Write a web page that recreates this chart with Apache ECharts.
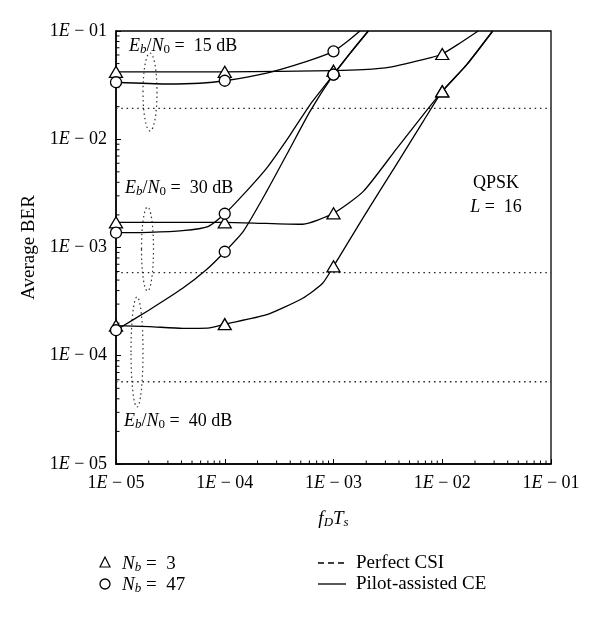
<!DOCTYPE html>
<html>
<head>
<meta charset="utf-8">
<script src="https://cdn.jsdelivr.net/npm/echarts@6/dist/echarts.min.js"></script>
<style>
html, body { margin: 0; padding: 0; background: #fff; }
#chart { width: 600px; height: 617px; }
</style>
</head>
<body>
<div id="chart"></div>
<script>
// decade points that carry a marker
var markerX = [1e-5, 1e-4, 1e-3, 1e-2];

// perfect CSI error floors (dotted lines)
var csi15 = 0.0193;
var csi30 = 5.85e-4;
var csi40 = 5.75e-5;

// pilot-assisted CE, Nb = 3 (triangles)
var nb3_15 = [[1e-5, 0.042], [1e-4, 0.042], [1e-3, 0.043], [1.88e-3, 0.0439], [3.31e-3, 0.0463],
    [7.7e-3, 0.0564], [1e-2, 0.0613], [1.46e-2, 0.0775], [2.14e-2, 0.1]];
var nb3_30 = [[1e-5, 0.00171], [1e-4, 0.00171], [2.39e-4, 0.00167], [5.21e-4, 0.00164], [1e-3, 0.00207],
    [1.88e-3, 0.0033], [3.81e-3, 0.0082], [6.7e-3, 0.0169], [1e-2, 0.0277], [1.68e-2, 0.0489], [2.91e-2, 0.1]];
var nb3_40 = [[1e-5, 1.9e-4], [2.02e-5, 1.86e-4], [4.1e-5, 1.79e-4], [7e-5, 1.8e-4], [1e-4, 1.96e-4],
    [2.39e-4, 2.38e-4], [5.21e-4, 3.4e-4], [7.94e-4, 4.67e-4], [1e-3, 6.7e-4], [1.88e-3, 0.0019],
    [3.81e-3, 0.0059], [6.7e-3, 0.0147], [1e-2, 0.0277], [1.68e-2, 0.0489], [2.91e-2, 0.1]];

// pilot-assisted CE, Nb = 47 (circles)
var nb47_15 = [[1e-5, 0.0336], [2.92e-5, 0.0324], [5.9e-5, 0.0329], [1e-4, 0.0347], [2.43e-4, 0.0409],
    [5.68e-4, 0.0525], [1e-3, 0.0649], [1.32e-3, 0.0791], [1.75e-3, 0.1]];
var nb47_30 = [[1e-5, 0.00137], [2.0e-5, 0.00138], [4.1e-5, 0.00143], [7.0e-5, 0.00156], [1e-4, 0.00205],
    [1.48e-4, 0.00308], [2.43e-4, 0.00542], [4.0e-4, 0.011], [6.08e-4, 0.0208], [1e-3, 0.0395],
    [1.42e-3, 0.0622], [2.09e-3, 0.1]];
var nb47_40 = [[1e-5, 1.72e-4], [2.02e-5, 2.65e-4], [4.1e-5, 4.2e-4], [6.73e-5, 6.19e-4], [1e-4, 9.14e-4],
    [1.48e-4, 0.00141], [2.43e-4, 0.0033], [4.0e-4, 0.0083], [6.08e-4, 0.0181], [1e-3, 0.0395],
    [1.42e-3, 0.0622], [2.09e-3, 0.1]];

var SERIF = '"Liberation Serif", "DejaVu Serif", serif';

function curve(data, sym) {
    return {
        type: 'line',
        smooth: 0.2,
        clip: true,
        symbol: sym,
        symbolSize: sym === 'triangle' ? [13, 11] : 11,
        showAllSymbol: true,
        itemStyle: { color: '#fff', borderColor: '#000', borderWidth: 1.3 },
        lineStyle: { color: '#000', width: 1.3 },
        data: data.map(function (p) {
            if (markerX.indexOf(p[0]) >= 0) return { value: p };
            return { value: p, symbol: 'none' };
        })
    };
}

function floorLine(v) {
    return {
        type: 'line',
        symbol: 'none',
        lineStyle: { color: '#222', width: 1.3, type: [1.5, 3.8] },
        data: [[1e-5, v], [1e-1, v]]
    };
}

function tickLabel(v) {
    var e = Math.round(Math.log(v) / Math.LN10);
    return '{a|1}{i|E}{a| \u2212 0' + (-e) + '}';
}

var labelRich = {
    a: { fontFamily: SERIF, fontSize: 18, color: '#000' },
    i: { fontFamily: SERIF, fontSize: 18, fontStyle: 'italic', color: '#000' }
};

var chart = echarts.init(document.getElementById('chart'));

chart.setOption({
    animation: false,
    backgroundColor: '#fff',
    grid: { left: 116, top: 31, right: 49, bottom: 153, show: true, borderColor: '#000', borderWidth: 1.3 },
    xAxis: {
        type: 'log', logBase: 10, min: 1e-5, max: 1e-1,
        name: '{i|f}{s|D}{i|T}{s|s}',
        nameLocation: 'middle', nameGap: 44,
        nameTextStyle: {
            rich: {
                i: { fontFamily: SERIF, fontSize: 19, fontStyle: 'italic', color: '#000' },
                s: { fontFamily: SERIF, fontSize: 13, fontStyle: 'italic', color: '#000', padding: [8, 0, 0, 0] }
            }
        },
        axisLine: { lineStyle: { color: '#000', width: 1.5 } },
        axisTick: { inside: true, length: 5, lineStyle: { color: '#000' } },
        splitLine: { show: false },
        axisLabel: { margin: 10, formatter: tickLabel, rich: labelRich }
    },
    yAxis: {
        type: 'log', logBase: 10, min: 1e-5, max: 1e-1,
        name: 'Average BER',
        nameLocation: 'middle', nameRotate: 90, nameGap: 76,
        nameTextStyle: { fontFamily: SERIF, fontSize: 19, color: '#000' },
        axisLine: { lineStyle: { color: '#000', width: 1.5 } },
        axisTick: { inside: true, length: 5, lineStyle: { color: '#000' } },
        splitLine: { show: false },
        axisLabel: { margin: 9, formatter: tickLabel, rich: labelRich }
    },
    series: [
        floorLine(csi15), floorLine(csi30), floorLine(csi40),
        curve(nb3_15, 'triangle'), curve(nb3_30, 'triangle'), curve(nb3_40, 'triangle'),
        curve(nb47_15, 'circle'), curve(nb47_30, 'circle'), curve(nb47_40, 'circle')
    ]
});

// minor log ticks, annotations and the legend
var x0 = chart.convertToPixel({ xAxisIndex: 0 }, 1e-5);
var y0 = chart.convertToPixel({ yAxisIndex: 0 }, 1e-5);
var els = [];
for (var d = -5; d <= -2; d++) {
    for (var m = 2; m <= 9; m++) {
        var v = m * Math.pow(10, d);
        var px = chart.convertToPixel({ xAxisIndex: 0 }, v);
        var py = chart.convertToPixel({ yAxisIndex: 0 }, v);
        els.push({ type: 'line', shape: { x1: px, y1: y0, x2: px, y2: y0 - 3.5 }, style: { stroke: '#000', lineWidth: 1 } });
        els.push({ type: 'line', shape: { x1: x0, y1: py, x2: x0 + 3.5, y2: py }, style: { stroke: '#000', lineWidth: 1 } });
    }
}

function richSet(size) {
    return {
        i: { fontFamily: SERIF, fontSize: size, fontStyle: 'italic', fill: '#000' },
        n: { fontFamily: SERIF, fontSize: size, fill: '#000' },
        s: { fontFamily: SERIF, fontSize: 13, fontStyle: 'italic', fill: '#000', padding: [8, 0, 0, 0] },
        s0: { fontFamily: SERIF, fontSize: 13, fill: '#000', padding: [8, 0, 0, 0] }
    };
}
function ebn0(db) {
    return '{i|E}{s|b}{n|/}{i|N}{s0|0}{n| =  ' + db + ' dB}';
}
function txt(x, y, text, align, size) {
    return { type: 'text', x: x, y: y,
        style: { text: text, rich: richSet(size || 18), align: align || 'left', verticalAlign: 'middle' } };
}
function dotEllipse(cx, cy, rx, ry) {
    return { type: 'ellipse', shape: { cx: cx, cy: cy, rx: rx, ry: ry },
        style: { fill: null, stroke: '#333', lineWidth: 1.2, lineDash: [1.5, 3] } };
}

els.push(txt(129, 46, ebn0(15)));
els.push(txt(125, 188, ebn0(30)));
els.push(txt(124, 421, ebn0(40)));
els.push(txt(496, 183, '{n|QPSK}', 'center'));
els.push(txt(496, 207, '{i|L}{n| =  16}', 'center'));

els.push(dotEllipse(150, 92, 7, 39));
els.push(dotEllipse(147.5, 249, 6, 42));
els.push(dotEllipse(137, 352, 6, 55));

// legend
els.push({ type: 'polygon', shape: { points: [[105, 557], [100, 567], [110, 567]] },
    style: { fill: '#fff', stroke: '#000', lineWidth: 1.2 } });
els.push({ type: 'circle', shape: { cx: 105, cy: 584, r: 5 }, style: { fill: '#fff', stroke: '#000', lineWidth: 1.3 } });
els.push(txt(122, 564, '{i|N}{s|b}{n| =  3}', 'left', 19));
els.push(txt(122, 585, '{i|N}{s|b}{n| =  47}', 'left', 19));
els.push({ type: 'line', shape: { x1: 318, y1: 563, x2: 346, y2: 563 }, style: { stroke: '#000', lineWidth: 1.3, lineDash: [6, 4] } });
els.push({ type: 'line', shape: { x1: 318, y1: 584, x2: 346, y2: 584 }, style: { stroke: '#000', lineWidth: 1.3 } });
els.push(txt(356, 563, '{n|Perfect CSI}', 'left', 19));
els.push(txt(356, 584, '{n|Pilot-assisted CE}', 'left', 19));

chart.setOption({ graphic: els });
</script>
</body>
</html>
